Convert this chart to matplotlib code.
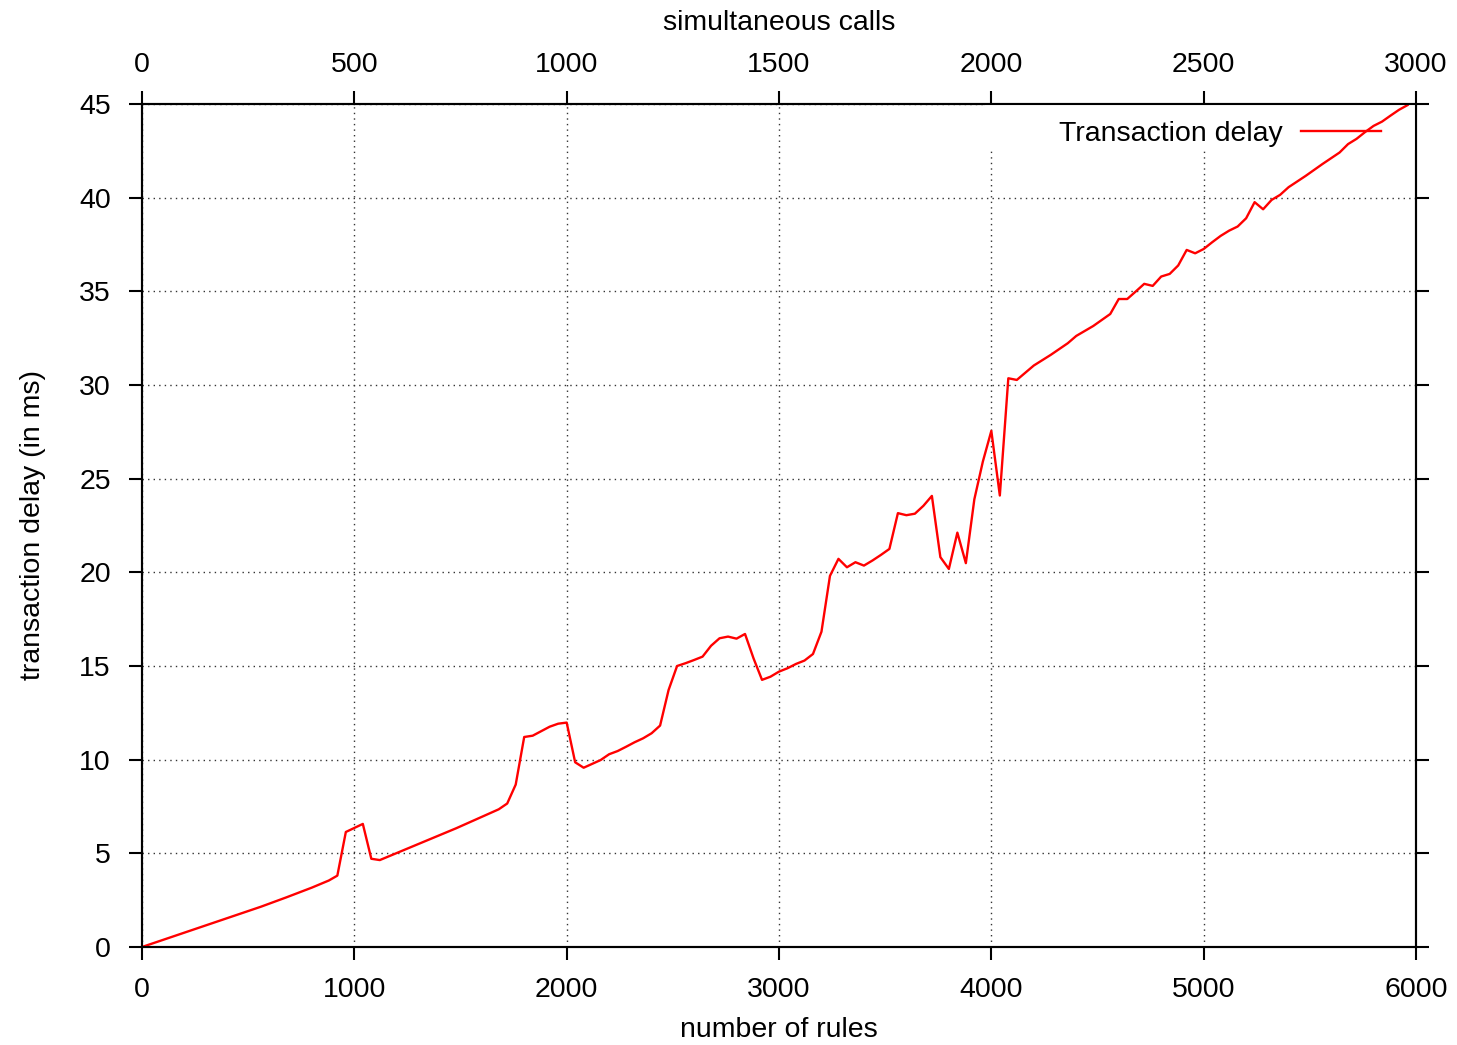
import numpy as np
import matplotlib
matplotlib.use('Agg')
import matplotlib.pyplot as plt
from matplotlib.patches import Rectangle

plt.rcParams['font.family'] = ['Liberation Sans', 'DejaVu Sans']

rules = [0, 560, 680, 800, 880, 920, 960, 1040, 1080, 1120, 1480, 1680, 1720, 1760,
         1800, 1840, 1920, 1960, 2000, 2040, 2080, 2160, 2200, 2240, 2280, 2320, 2360,
         2400, 2440, 2480, 2520, 2560, 2600, 2640, 2680, 2720, 2760, 2800, 2840, 2880,
         2920, 2960, 3000, 3040, 3080, 3120, 3160, 3200, 3240, 3280, 3320, 3360, 3400,
         3440, 3480, 3520, 3560, 3600, 3640, 3680, 3720, 3760, 3800, 3840, 3880, 3920,
         3960, 4000, 4040, 4080, 4120, 4200, 4280, 4360, 4400, 4480, 4560, 4600, 4640,
         4680, 4720, 4760, 4800, 4840, 4880, 4920, 4960, 5000, 5040, 5080, 5120, 5160,
         5200, 5240, 5280, 5320, 5360, 5400, 5480, 5560, 5640, 5680, 5720, 5760, 5800,
         5840, 5880, 5920, 5960]
delay = [0, 2.15, 2.65, 3.17, 3.55, 3.81, 6.14, 6.57, 4.71, 4.64, 6.34, 7.35, 7.66, 8.67,
         11.21, 11.28, 11.76, 11.92, 11.98, 9.86, 9.57, 9.98, 10.29, 10.46, 10.69, 10.93, 11.14,
         11.41, 11.82, 13.72, 15.00, 15.15, 15.32, 15.50, 16.08, 16.48, 16.57, 16.46, 16.71, 15.41,
         14.26, 14.43, 14.70, 14.88, 15.11, 15.29, 15.64, 16.83, 19.81, 20.72, 20.27, 20.54, 20.36,
         20.63, 20.93, 21.25, 23.16, 23.05, 23.13, 23.55, 24.08, 20.81, 20.18, 22.12, 20.49, 23.90,
         25.91, 27.55, 24.10, 30.36, 30.27, 31.04, 31.61, 32.23, 32.62, 33.15, 33.79, 34.59, 34.59,
         34.99, 35.40, 35.29, 35.79, 35.93, 36.38, 37.21, 37.03, 37.26, 37.62, 37.96, 38.24, 38.46,
         38.90, 39.76, 39.38, 39.88, 40.15, 40.56, 41.16, 41.80, 42.41, 42.86, 43.14, 43.50, 43.83,
         44.06, 44.38, 44.69, 44.94]

x_ticks = [0, 1000, 2000, 3000, 4000, 5000, 6000]
calls_ticks = [0, 500, 1000, 1500, 2000, 2500, 3000]
y_ticks = [0, 5, 10, 15, 20, 25, 30, 35, 40, 45]

fs = 20.5
fig = plt.figure(figsize=(14.57, 10.45), dpi=100)
ax = fig.add_axes([0.09746, 0.09378, 0.8744, 0.8067])

ax.plot(rules, delay, color='#ff0000', lw=1.7, label='Transaction delay', zorder=6)
ax.set_xlim(0, 6000)
ax.set_ylim(0, 45)
ax.set_xticks(x_ticks)
ax.set_yticks(y_ticks)
ax.grid(True, color='0.2', linestyle=(0, (1, 3)), linewidth=1.0)
ax.tick_params(axis='both', direction='out', length=9.4, width=1.5, labelsize=fs, pad=12)
ax.tick_params(axis='y', right=True, pad=13)
for s in ax.spines.values():
	s.set_linewidth(1.5)
ax.set_xlabel('number of rules', fontsize=fs, labelpad=10)
ax.set_ylabel('transaction delay (in ms)', fontsize=fs, labelpad=24)

# key background hides the grid behind it, like gnuplot does
ax.add_patch(Rectangle((0.662, 0.9454), 0.338, 0.0546, transform=ax.transAxes,
                       facecolor='white', edgecolor='none', zorder=3))

leg = ax.legend(loc='upper right', bbox_to_anchor=(0.988, 1.003), frameon=False, fontsize=fs,
                markerfirst=False, handlelength=2.8, handletextpad=0.65, borderpad=0.2)
leg.set_zorder(5)

ax2 = ax.twiny()
ax2.set_xlim(0, 3000)
ax2.set_xticks(calls_ticks)
ax2.tick_params(axis='x', direction='out', length=9.4, width=1.5, labelsize=fs, pad=9)
ax2.set_xlabel('simultaneous calls', fontsize=fs, labelpad=16)
for s in ax2.spines.values():
	s.set_linewidth(1.5)

plt.savefig('out.png', dpi=100)
